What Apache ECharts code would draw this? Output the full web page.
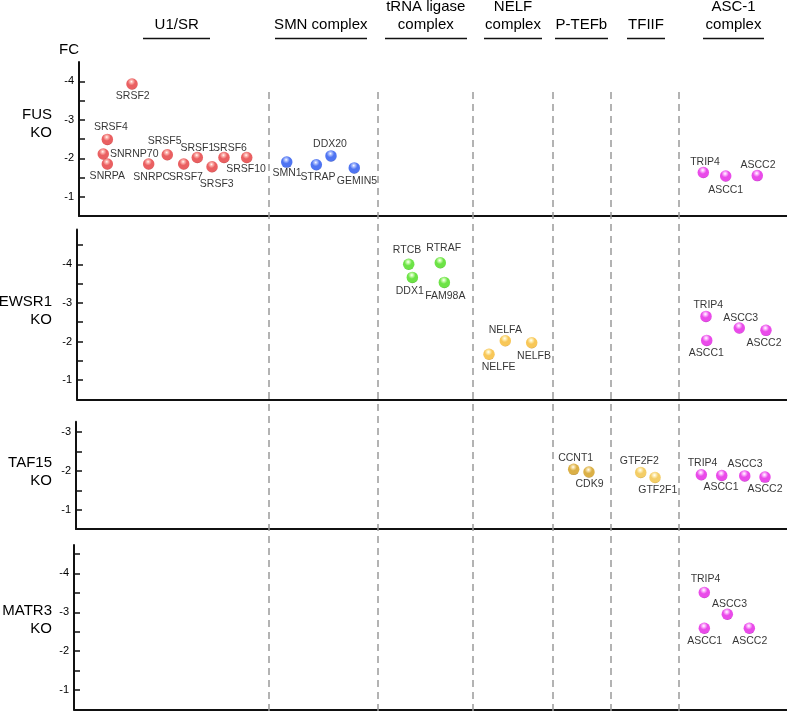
<!DOCTYPE html>
<html><head><meta charset="utf-8">
<script src="https://cdn.jsdelivr.net/npm/echarts@6/dist/echarts.min.js"></script>
<style>html,body{margin:0;padding:0;background:#fff}#c{width:787px;height:711px}</style>
</head><body><div id="c"></div>
<script>
// ---------- DATA ----------
const complexes = ['U1/SR', 'SMN complex', 'tRNA ligase\ncomplex', 'NELF\ncomplex', 'P-TEFb', 'TFIIF', 'ASC-1\ncomplex'];
const rowLabels = ['FUS\nKO', 'EWSR1\nKO', 'TAF15\nKO', 'MATR3\nKO'];
const yTickLabels = [-4, -3, -2, -1];
// column boundaries in position units (0..100 across the plot)
const boundaries = [26.74, 42.19, 55.55, 66.85, 75.09, 84.7];

// FUS KO
const fusGenes = ['SRSF2','SRSF4','SNRNP70','SNRPA','SNRPC','SRSF5','SRSF7','SRSF1','SRSF3','SRSF6','SRSF10','SMN1','STRAP','DDX20','GEMIN5','TRIP4','ASCC1','ASCC2'];
const fusPos   = [7.49, 4.0, 3.43, 4.0, 9.84, 12.47, 14.79, 16.71, 18.79, 20.48, 23.69, 29.34, 33.52, 35.59, 38.88, 88.18, 91.34, 95.8];
const fusFC    = [-3.93, -2.49, -2.11, -1.85, -1.85, -2.09, -1.85, -2.02, -1.78, -2.02, -2.02, -1.90, -1.83, -2.06, -1.75, -1.63, -1.54, -1.55];
const fusGroup = [0,0,0,0,0,0,0,0,0,0,0,1,1,1,1,6,6,6];

// EWSR1 KO
const ewsGenes = ['RTCB','RTRAF','DDX1','FAM98A','NELFA','NELFE','NELFB','TRIP4','ASCC3','ASCC1','ASCC2'];
const ewsPos   = [46.57, 51.03, 47.08, 51.6, 60.21, 57.91, 63.94, 88.56, 93.26, 88.66, 97.03];
const ewsFC    = [-4.0, -4.04, -3.66, -3.53, -2.02, -1.67, -1.97, -2.65, -2.35, -2.03, -2.29];
const ewsGroup = [2,2,2,2,3,3,3,6,6,6,6];

// TAF15 KO
const tafGenes = ['CCNT1','CDK9','GTF2F2','GTF2F1','TRIP4','ASCC1','ASCC3','ASCC2'];
const tafPos   = [69.87, 72.03, 79.34, 81.36, 87.9, 90.78, 94.03, 96.89];
const tafFC    = [-2.04, -1.97, -1.96, -1.83, -1.90, -1.88, -1.87, -1.84];
const tafGroup = [4,4,5,5,6,6,6,6];

// MATR3 KO
const matGenes = ['TRIP4','ASCC3','ASCC1','ASCC2'];
const matPos   = [88.32, 91.57, 88.32, 94.68];
const matFC    = [-3.51, -2.95, -2.59, -2.59];
const matGroup = [6,6,6,6];

// ---------- STYLE ----------
const FONT = 'Liberation Sans, Arial, Helvetica, sans-serif';
const groupColors = [
  ['#ffb0a8', '#e4383a', '#a81818'],
  ['#a8bcff', '#2352ee', '#1030a8'],
  ['#c8ffa8', '#48dc18', '#2c9a08'],
  ['#fff0b0', '#f6b92e', '#c08010'],
  ['#f8e0a0', '#d29c18', '#95680a'],
  ['#fff0b8', '#f1c140', '#b88a18'],
  ['#ffb8ff', '#e41ee4', '#a008a8']
];
function sphere(g) {
  const c = groupColors[g];
  return { type: 'radial', x: 0.45, y: 0.3, r: 0.72,
    colorStops: [{offset: 0, color: '#ffffff'}, {offset: 0.14, color: c[0]}, {offset: 0.45, color: c[1]}, {offset: 0.85, color: c[1]}, {offset: 1, color: c[2]}] };
}
// label placement: [position, dx, dy]
const fusLab = [['bottom',0.7,0],['top',3.5,-1],['right',0,0],['bottom',0,0],['bottom',3,1.5],['top',-2.6,-2],['bottom',2.3,1.5],['top',0,2],['bottom',4.7,6],['top',6,2],['bottom',-0.7,-0.5],['bottom',0.3,-1],['bottom',1.7,1],['top',-1,0],['bottom',2.7,1.5],['top',1.7,1],['bottom',0,2],['top',0.7,1]];
const ewsLab = [['top',-1.7,-2],['top',3.4,-2.5],['bottom',-2.6,2],['bottom',1,2],['top',0,1],['bottom',9.7,1],['bottom',2.3,2],['top',2.3,0.5],['top',1.4,1.5],['bottom',-0.4,1],['bottom',-2,1]];
const tafLab = [['top',2,0.5],['bottom',0.5,0.5],['top',-1.4,0.5],['bottom',2.8,1],['top',1.2,0],['bottom',-0.7,0],['top',0.3,-0.5],['bottom',0,0.5]];
const matLab = [['top',1.2,-1.5],['top',2.2,1.5],['bottom',0.4,1],['bottom',0.4,1]];

const panels = [
  {genes: fusGenes, pos: fusPos, fc: fusFC, grp: fusGroup, lab: fusLab, left: 79, top: 62, height: 154, min: -4.5, ticks: [-4,-3.5,-3,-2.5,-2,-1.5,-1], labels: yTickLabels},
  {genes: ewsGenes, pos: ewsPos, fc: ewsFC, grp: ewsGroup, lab: ewsLab, left: 77, top: 229.5, height: 170, min: -4.9, ticks: [-4.5,-4,-3.5,-3,-2.5,-2,-1.5,-1], labels: yTickLabels},
  {genes: tafGenes, pos: tafPos, fc: tafFC, grp: tafGroup, lab: tafLab, left: 76, top: 421.7, height: 107.3, min: -3.27, ticks: [-3,-2.5,-2,-1.5,-1], labels: yTickLabels.slice(1)},
  {genes: matGenes, pos: matPos, fc: matFC, grp: matGroup, lab: matLab, left: 74, top: 545, height: 164.5, min: -4.73, ticks: [-4.5,-4,-3.5,-3,-2.5,-2,-1.5,-1], labels: yTickLabels}
];
const PX_PER_UNIT = 7.08, BASE_LEFT = 79;

const grid = [], xAxis = [], yAxis = [], series = [];
panels.forEach((p, i) => {
  grid.push({left: p.left, right: 0, top: p.top, height: p.height});
  xAxis.push({gridIndex: i, type: 'value', min: (p.left - BASE_LEFT) / PX_PER_UNIT, max: 100,
    axisLine: {show: true, onZero: false, lineStyle: {color: '#111', width: 2}},
    axisTick: {show: false}, axisLabel: {show: false}, splitLine: {show: false}});
  yAxis.push({gridIndex: i, type: 'value', inverse: true, min: p.min, max: -0.5,
    axisLine: {show: true, onZero: false, lineStyle: {color: '#111', width: 2}},
    axisTick: {show: true, inside: true, length: 6, customValues: p.ticks, lineStyle: {color: '#111', width: 1.5}},
    axisLabel: {show: true, customValues: p.labels, fontSize: 11, margin: 5, color: '#000', fontFamily: FONT},
    splitLine: {show: false}});
  series.push({
    type: 'scatter', xAxisIndex: i, yAxisIndex: i, z: 5, symbolSize: 11.5,
    data: p.genes.map((g, k) => ({
      name: g, value: [p.pos[k], p.fc[k]],
      itemStyle: {color: sphere(p.grp[k])},
      label: {show: true, position: p.lab[k][0], distance: p.lab[k][0] === 'right' ? 1 : 0, offset: [p.lab[k][1], p.lab[k][2]]}
    })),
    label: {show: true, formatter: '{b}', fontSize: 10.5, lineHeight: 12, color: '#000', fontFamily: FONT},
    emphasis: {disabled: true}, animation: false
  });
});
// separator grid
grid.push({left: BASE_LEFT, right: 0, top: 89, bottom: 0});
xAxis.push({gridIndex: 4, type: 'value', min: 0, max: 100, show: false});
yAxis.push({gridIndex: 4, type: 'value', min: 0, max: 1, show: false});
series.push({type: 'scatter', xAxisIndex: 4, yAxisIndex: 4, z: 1, data: [], silent: true,
  markLine: {silent: true, symbol: 'none', animation: false, label: {show: false},
    lineStyle: {type: [7, 5], color: '#9a9a9a', width: 1.5},
    data: boundaries.map(v => ({xAxis: v}))}});

// header/graphic texts
const headerX = [176.7, 320.8, 425.8, 513, 581.3, 646, 733.5];
const headerLine = [[143,210],[275,367],[385,467],[484,542],[555,608],[627,665],[703,764]];
const rowY = [124, 311, 471.5, 620];
const graphic = [];
complexes.forEach((c, i) => {
  const two = c.indexOf('\n') >= 0;
  graphic.push({type: 'text', x: headerX[i], y: two ? 16 : 25, style: {text: c, align: 'center', verticalAlign: 'middle', font: '15px ' + FONT, lineHeight: 18, fill: '#000'}});
  graphic.push({type: 'line', shape: {x1: headerLine[i][0], y1: 38.5, x2: headerLine[i][1], y2: 38.5}, style: {stroke: '#111', lineWidth: 1.5}});
});
rowLabels.forEach((r, i) => {
  graphic.push({type: 'text', x: 52, y: rowY[i], style: {text: r, align: 'right', verticalAlign: 'middle', font: '15px ' + FONT, lineHeight: 18, fill: '#000'}});
});
graphic.push({type: 'text', x: 69, y: 50, style: {text: 'FC', align: 'center', verticalAlign: 'middle', font: '15px ' + FONT, fill: '#000'}});

const chart = echarts.init(document.getElementById('c'), null, {renderer: 'canvas'});
chart.setOption({animation: false, backgroundColor: '#fff', grid, xAxis, yAxis, series, graphic});
</script></body></html>
